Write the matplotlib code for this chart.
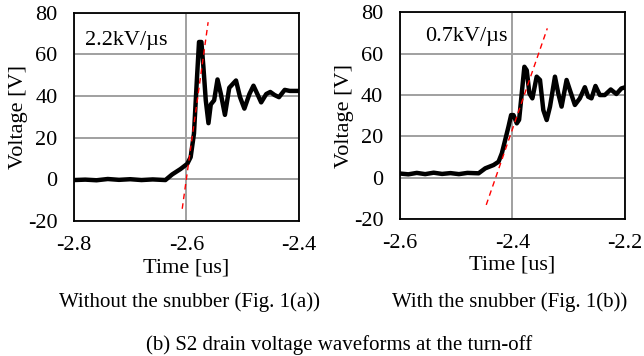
import numpy as np
import matplotlib
matplotlib.use("Agg")
import matplotlib.pyplot as plt

plt.rcParams['font.family'] = ['Liberation Serif', 'DejaVu Serif']
plt.rcParams['axes.unicode_minus'] = False

# --- datos -----------------------------------------------------------------------------
# Sin snubber (Fig. 1(a))
t_a = [-2.800, -2.780, -2.760, -2.740, -2.720, -2.700, -2.680, -2.660, -2.645, -2.6374,
       -2.6254, -2.6105, -2.5985, -2.5925, -2.5866, -2.5818, -2.5776, -2.5734, -2.5698,
       -2.5656, -2.5608, -2.5567, -2.5507, -2.5447, -2.5387, -2.5315, -2.5238, -2.5118,
       -2.5046, -2.4969, -2.4879, -2.4807, -2.4729, -2.4670, -2.4580, -2.4508, -2.4430,
       -2.4353, -2.4251, -2.4161, -2.4000]
v_a = [-0.3, -0.1, -0.4, 0.2, -0.2, 0.1, -0.3, 0.0, -0.2, -0.3,
       2.4, 5.0, 7.5, 10.7, 22.0, 46.0, 66.0, 66.0, 54.0,
       38.0, 27.0, 36.0, 38.0, 48.0, 41.0, 31.0, 44.0, 47.5,
       39.5, 34.0, 41.0, 45.0, 40.5, 37.0, 41.0, 42.0, 40.5,
       39.5, 43.0, 42.5, 42.5]

# Con snubber (Fig. 1(b))
t_b = [-2.600, -2.585, -2.570, -2.555, -2.540, -2.525, -2.510, -2.495, -2.480, -2.460,
       -2.4482, -2.4334, -2.4245, -2.4186, -2.4127, -2.4068, -2.4021, -2.3979, -2.3920,
       -2.3879, -2.3832, -2.3785, -2.3743, -2.3696, -2.3643, -2.3566, -2.3507, -2.3448,
       -2.3388, -2.3329, -2.3241, -2.3182, -2.3123, -2.3034, -2.2975, -2.2886, -2.2798,
       -2.2709, -2.2650, -2.2591, -2.2520, -2.2443, -2.2354, -2.2248, -2.2148, -2.2059,
       -2.2000]
v_b = [2.0, 1.6, 2.3, 1.7, 2.4, 1.8, 2.2, 1.7, 2.3, 2.1,
       4.5, 6.1, 7.7, 11.8, 18.2, 24.7, 30.3, 30.3, 26.3,
       28.0, 40.8, 53.7, 52.0, 40.8, 38.4, 48.9, 47.3, 32.7,
       27.9, 34.4, 48.9, 40.8, 34.4, 47.3, 42.4, 35.2, 38.4,
       43.8, 39.2, 38.4, 44.4, 40.0, 40.0, 42.7, 40.5, 43.2,
       43.7]

# Rectas de pendiente dv/dt
slope_a_t = [-2.6075, -2.5614]
slope_a_v = [-14.1, 75.5]
slope_b_t = [-2.4464, -2.3377]
slope_b_v = [-13.2, 72.3]

yticks = [-20, 0, 20, 40, 60, 80]

fig = plt.figure(figsize=(6.44, 3.56), dpi=100)
ax1 = fig.add_axes([0.115, 0.379, 0.349, 0.585])
ax2 = fig.add_axes([0.621, 0.385, 0.349, 0.580])

panels = [
    (ax1, t_a, v_a, slope_a_t, slope_a_v, [-2.8, -2.6, -2.4], ['-2.8', '-2.6', '-2.4'],
     '2.2kV/µs', (0.05, 0.865)),
    (ax2, t_b, v_b, slope_b_t, slope_b_v, [-2.6, -2.4, -2.2], ['-2.6', '-2.4', '-2.2'],
     '0.7kV/µs', (0.11, 0.885)),
]

for ax, t, v, st, sv, xt, xtl, txt, pos in panels:
    ax.plot(t, v, color='black', lw=3.2, solid_joinstyle='round', zorder=3)
    ax.plot(st, sv, color='red', lw=1.0, ls=(0, (4, 3)), zorder=4)
    ax.set_xlim(xt[0], xt[-1])
    ax.set_ylim(-20, 80)
    ax.set_xticks(xt)
    ax.set_xticklabels(xtl)
    ax.set_yticks(yticks)
    ax.grid(True, color='#a0a0a0', lw=1.4)
    ax.set_axisbelow(True)
    ax.tick_params(length=0, labelsize=16)
    ax.tick_params(axis='x', pad=11)
    ax.tick_params(axis='y', pad=12)
    for s in ax.spines.values():
        s.set_linewidth(1.3)
        s.set_color('black')
    ax.set_xlabel('Time [us]', fontsize=16, labelpad=2)
    ax.set_ylabel('Voltage [V]', fontsize=16, labelpad=0)
    ax.text(pos[0], pos[1], txt, transform=ax.transAxes, fontsize=16, va='center', zorder=5)

fig.text(59/644, 1 - 307/356, 'Without the snubber (Fig. 1(a))', ha='left', va='baseline', fontsize=15)
fig.text(392/644, 1 - 307/356, 'With the snubber (Fig. 1(b))', ha='left', va='baseline', fontsize=15)
fig.text(146/644, 1 - 350/356, '(b) S2 drain voltage waveforms at the turn-off', ha='left', va='baseline', fontsize=15)

fig.savefig('out.png', dpi=100)
